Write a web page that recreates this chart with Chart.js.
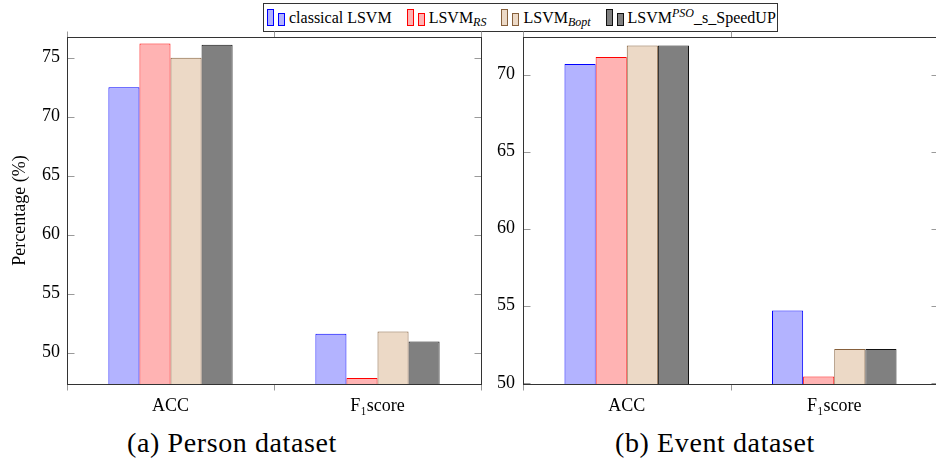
<!DOCTYPE html>
<html>
<head>
<meta charset="utf-8">
<script src="https://cdn.jsdelivr.net/npm/chart.js@4.4.1/dist/chart.umd.min.js"></script>
<style>
  html, body { margin: 0; padding: 0; background: #fff; }
  body { width: 936px; height: 471px; overflow: hidden; position: relative; font-family: "Liberation Serif", "DejaVu Serif", serif; color: #000; }
  .panel { position: absolute; top: 0; }
  #panel-person { left: 0; }
  #panel-event { left: 480px; }
  .legend {
    position: absolute; left: 263px; top: 3px; width: 515px; height: 29px;
    border: 1px solid #333; box-sizing: border-box;
    display: flex; align-items: center; padding-left: 3px;
    font-size: 16px; white-space: nowrap;
  }
  .legend .item { display: inline-flex; align-items: center; margin-right: 15px; }
  .legend .swatch { display: inline-flex; align-items: flex-end; height: 17px; margin-right: 4px; }
  .legend .swatch i { display: block; width: 5px; box-sizing: content-box; border: 1px solid; }
  .legend .swatch i:first-child { height: 15px; margin-right: 4px; }
  .legend .swatch i:last-child { height: 11px; }
  .legend .txt { display: inline-block; line-height: 18px; }
  .legend sub, .legend sup { font-size: 12px; font-style: italic; line-height: 0; }
  .legend sub { vertical-align: -3px; }
  .legend sup { vertical-align: 6px; }
  .caption { position: absolute; top: 427px; font-size: 28px; letter-spacing: 0.6px; white-space: nowrap; transform: translateX(-50%); }
</style>
</head>
<body>
<div class="legend" id="legend"></div>
<div class="panel" id="panel-person"><canvas id="chart-person" width="500" height="420"></canvas></div>
<div class="panel" id="panel-event"><canvas id="chart-event" width="460" height="420"></canvas></div>
<div class="caption" style="left:232px">(a) Person dataset</div>
<div class="caption" style="left:715px">(b) Event dataset</div>

<script>
  // categories on the x axis
  var categories = ['ACC', 'F\u2081score'];

  // series names (legend markup) and colours
  var seriesLabels = [
    'classical LSVM',
    'LSVM<sub>RS</sub>',
    'LSVM<sub>Bopt</sub>',
    'LSVM<sup>PSO</sup>_s_SpeedUP'
  ];
  var fills   = ['#b3b3ff', '#ffb3b3', '#ecd9c6', '#808080'];
  var borders = ['#0000ff', '#ff0000', '#86603c', '#111111'];

  // Person dataset, % (ACC, F1)
  var personClassical = [72.5, 51.6];
  var personRS        = [76.2, 47.85];
  var personBopt      = [75.0, 51.8];
  var personPSO       = [76.1, 50.95];

  // Event dataset, % (ACC, F1)
  var eventClassical = [70.7, 54.7];
  var eventRS        = [71.15, 50.4];
  var eventBopt      = [71.9, 52.2];
  var eventPSO       = [71.9, 52.2];

  // y ranges and ticks
  var personYMin = 47.35, personYMax = 76.75;
  var eventYMin  = 49.92, eventYMax  = 72.45;
  var yStep = 5;

  Chart.defaults.color = '#000';
  Chart.defaults.font.family = '"Liberation Serif", "DejaVu Serif", serif';

  // legend
  document.getElementById('legend').innerHTML = seriesLabels.map(function (lbl, i) {
    var c = 'background:' + fills[i] + ';border-color:' + borders[i];
    return '<span class="item"><span class="swatch"><i style="' + c + '"></i><i style="' + c + '"></i></span>' +
           '<span class="txt">' + lbl + '</span></span>';
  }).join('');

  // box frame, inward y ticks, outward x ticks on category boundaries
  var frameTicks = {
    id: 'frameTicks',
    afterDraw: function (chart) {
      var a = chart.chartArea, ctx = chart.ctx;
      var xs = chart.scales.x, ys = chart.scales.y;
      var top = Math.round(a.top) + 0.5, bottom = Math.round(a.bottom) + 0.5;
      var left = Math.round(a.left) + 0.5, right = Math.round(a.right) + 0.5;
      ctx.save();
      ctx.lineWidth = 1;
      ctx.strokeStyle = '#9a9a9a';
      ctx.beginPath();
      ys.ticks.forEach(function (t) {
        var py = Math.round(ys.getPixelForValue(t.value)) + 0.5;
        ctx.moveTo(left, py);  ctx.lineTo(left + 7, py);
        ctx.moveTo(right, py); ctx.lineTo(right - 7, py);
      });
      var half = (xs.getPixelForValue(1) - xs.getPixelForValue(0)) / 2;
      var edges = [xs.getPixelForValue(0) - half, xs.getPixelForValue(0) + half, xs.getPixelForValue(1) + half];
      edges.forEach(function (px) {
        px = Math.round(px) + 0.5;
        ctx.moveTo(px, bottom); ctx.lineTo(px, bottom + 6);
        ctx.moveTo(px, top);    ctx.lineTo(px, top - 6);
      });
      ctx.stroke();
      ctx.strokeStyle = '#333';
      ctx.strokeRect(left, top, right - left, bottom - top);
      ctx.restore();
    }
  };

  function buildDatasets(rows) {
    return rows.map(function (vals, i) {
      return {
        label: seriesLabels[i],
        data: vals,
        backgroundColor: fills[i],
        borderColor: borders[i],
        borderWidth: 1,
        barPercentage: 1,
        categoryPercentage: 0.6
      };
    });
  }

  function makeChart(id, rows, yMin, yMax, opts) {
    return new Chart(document.getElementById(id), {
      type: 'bar',
      data: { labels: categories, datasets: buildDatasets(rows) },
      options: {
        responsive: false,
        animation: false,
        devicePixelRatio: 1,
        layout: { padding: { left: 0, right: opts.padRight, top: 37, bottom: 0 } },
        plugins: { legend: { display: false }, tooltip: { enabled: false } },
        scales: {
          x: {
            offset: true,
            grid: { display: false, drawTicks: false },
            border: { display: false },
            ticks: { font: { size: 18 }, padding: 11, maxRotation: 0 },
            afterFit: function (s) { s.height = 36; }
          },
          y: {
            min: yMin,
            max: yMax,
            grid: { display: false, drawTicks: false },
            border: { display: false },
            ticks: { stepSize: yStep, includeBounds: false, font: { size: 18 }, padding: opts.tickPad },
            title: {
              display: !!opts.title,
              text: opts.title || '',
              font: { size: 18 },
              padding: { top: 9, bottom: 0 }
            },
            afterFit: function (s) { s.width = opts.axisWidth; }
          }
        }
      },
      plugins: [frameTicks]
    });
  }

  makeChart('chart-person',
    [personClassical, personRS, personBopt, personPSO],
    personYMin, personYMax,
    { axisWidth: 67, padRight: 19, tickPad: 7, title: 'Percentage (%)' });

  makeChart('chart-event',
    [eventClassical, eventRS, eventBopt, eventPSO],
    eventYMin, eventYMax,
    { axisWidth: 43, padRight: 2, tickPad: 8 });
</script>
</body>
</html>
